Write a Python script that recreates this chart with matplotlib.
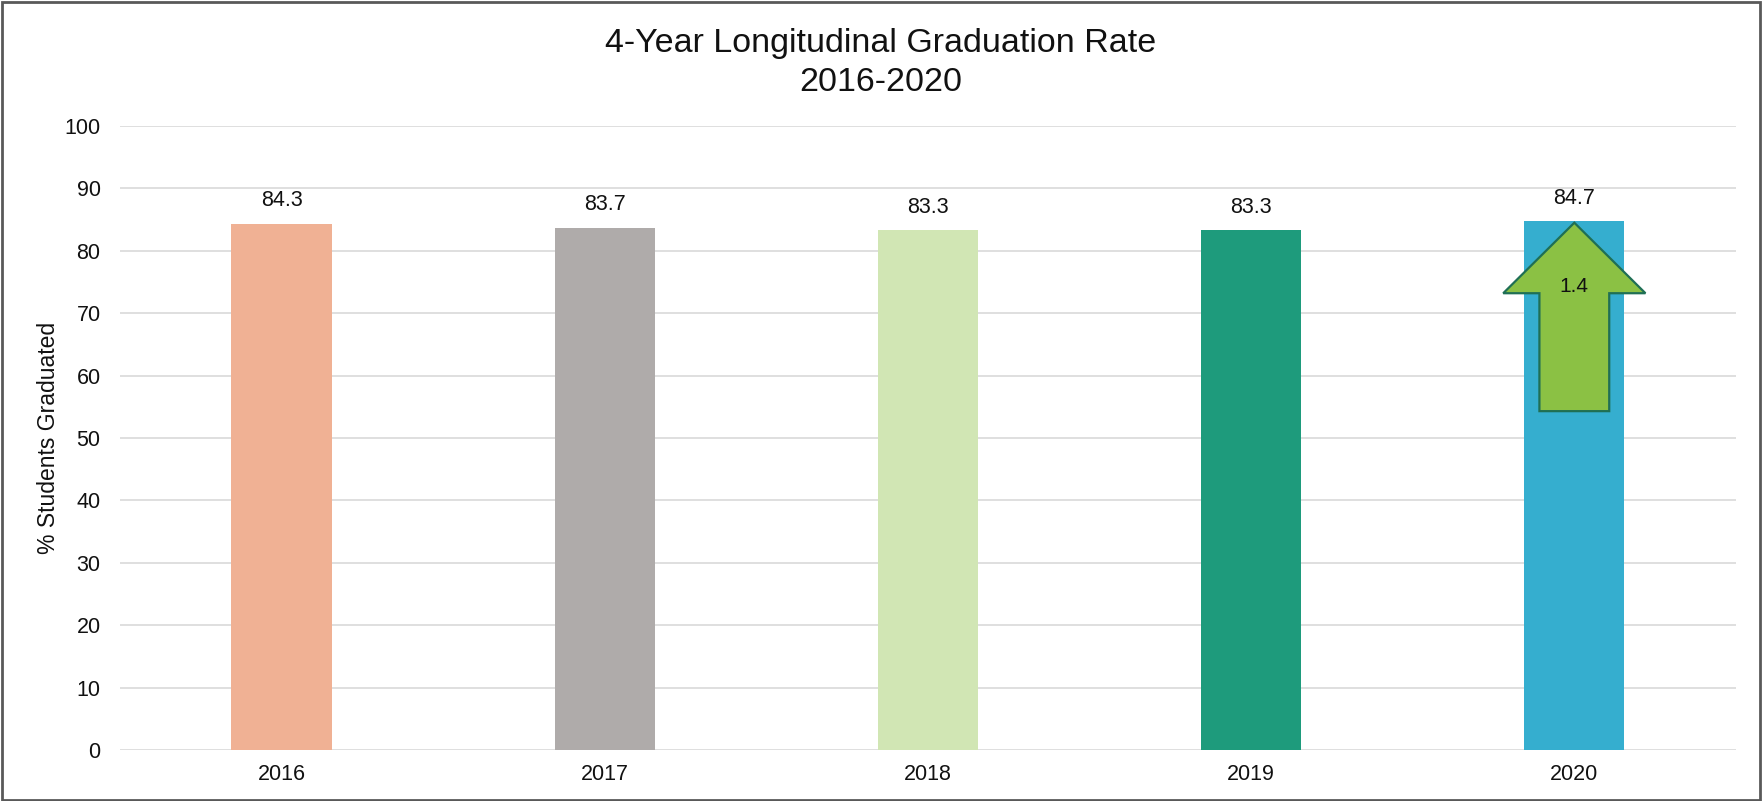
import matplotlib.pyplot as plt
from matplotlib.patches import Rectangle

plt.rcParams['font.family'] = ['Liberation Sans', 'DejaVu Sans']

# data
years = ['2016', '2017', '2018', '2019', '2020']
rates = [84.3, 83.7, 83.3, 83.3, 84.7]
colors = ['#F0B194', '#AFABAA', '#D1E6B4', '#1E9B7C', '#35AECF']
change = 1.4
arrow_base = 54.3

fig = plt.figure(figsize=(17.62, 8.01), dpi=100)
ax = fig.add_axes([0.0681, 0.0637, 0.9171, 0.779])

x = list(range(len(years)))
bars = ax.bar(x, rates, width=0.31, color=colors, zorder=2)

for xi, v in zip(x, rates):
    ax.text(xi, v + 2.0, f'{v:.1f}', ha='center', va='bottom', fontsize=15.5, color='#111111')

# arrow showing change over 2020
ax.arrow(x[-1], arrow_base, 0, rates[-1] - 0.2 - arrow_base, width=0.216,
         head_width=0.44, head_length=11.3, length_includes_head=True,
         facecolor='#8BC144', edgecolor='#1F6F55', linewidth=1.6, zorder=3)
ax.text(x[-1], 74.3, f'{change}', ha='center', va='center', fontsize=15, color='#111111', zorder=4)

ax.set_xlim(-0.5, len(years) - 0.5)
ax.set_ylim(0, 100)
ax.set_yticks(range(0, 101, 10))
ax.set_xticks(x)
ax.set_xticklabels(years)
ax.tick_params(axis='both', length=0, labelsize=15.5, colors='#111111')
ax.tick_params(axis='y', pad=14)
ax.tick_params(axis='x', pad=10)
ax.grid(axis='y', color='#D9D9D9', linewidth=1.2, zorder=0)
ax.set_axisbelow(True)
for s in ax.spines.values():
    s.set_visible(False)

ax.set_ylabel('% Students Graduated', fontsize=16.5, color='#111111')
ax.yaxis.set_label_coords(-0.037, 0.5)

fig.text(0.5, 0.921, '4-Year Longitudinal Graduation Rate\n2016-2020', ha='center', va='center',
         fontsize=24.5, color='#111111', linespacing=1.33)

fig.patches.append(Rectangle((0.001, 0.001), 0.998, 0.997, transform=fig.transFigure,
                             fill=False, edgecolor='#595959', linewidth=2))

fig.savefig('out.png', dpi=100)
